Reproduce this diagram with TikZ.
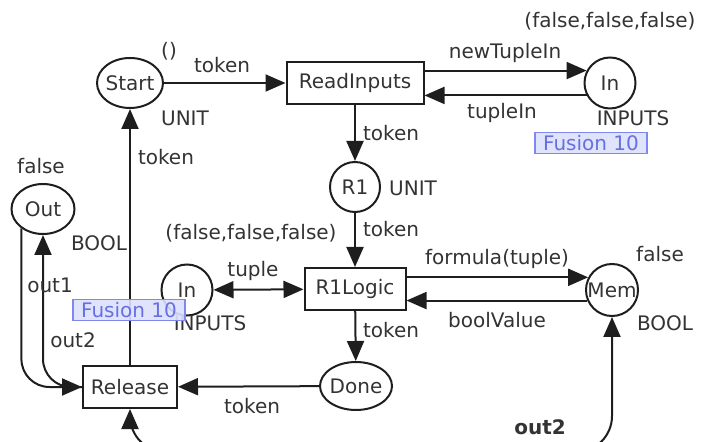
\documentclass[tikz,border=0pt]{standalone}
\usepackage{fontspec}
\setmainfont{DejaVu Sans}
\usetikzlibrary{arrows.meta,shapes.geometric}

\definecolor{ink}{HTML}{333333}
\definecolor{edge}{HTML}{1E1E1E}
\definecolor{fusline}{HTML}{8088F0}
\definecolor{fusfill}{HTML}{DCE0FC}
\definecolor{fustext}{HTML}{6670E0}

% text that does not widen the shape around it
\newcommand\zw[1]{\hbox to 0pt{\hss#1\hss}}

\begin{document}
\begin{tikzpicture}[x=0.5pt,y=-0.5pt,
  font=\fontsize{10}{12}\selectfont,
  every node/.style={text=ink},
  place/.style={ellipse, draw=edge, line width=1pt, inner sep=0pt},
  trans/.style={rectangle, draw=edge, line width=1pt, inner sep=0pt},
  lbl/.style={inner sep=0pt, anchor=center},
  fusion/.style={draw=fusline, fill=fusfill, fill opacity=0.9, text opacity=1,
    text=fustext, line width=0.8pt, minimum width=56pt, minimum height=10.5pt,
    inner sep=0pt},
  tip/.style={Triangle[length=10pt,width=8.5pt]},
  arc/.style={draw=edge, line width=1pt, -{Triangle[length=10pt,width=8.5pt]}},
  arcboth/.style={draw=edge, line width=1pt,
    {Triangle[length=10pt,width=8.5pt]}-{Triangle[length=10pt,width=8.5pt]}}
]
\useasboundingbox (0,0) rectangle (710,442);

% places and transitions
\node[place, minimum width=33pt, minimum height=25pt] (start) at (130,83) {\zw{Start}};
\node[trans, minimum width=68.5pt, minimum height=21pt] (readin) at (355,83) {\zw{ReadInputs}};
\node[place, minimum width=25.5pt, minimum height=25.5pt] (intop) at (610,83) {\zw{In}};
\node[place, minimum width=25pt, minimum height=25pt] (r1) at (355,187) {\zw{R1}};
\node[trans, minimum width=50.5pt, minimum height=21pt] (r1logic) at (355,289) {\zw{R1Logic}};
\node[place, minimum width=25.5pt, minimum height=25.5pt] (inlow) at (187,290) {\zw{In}};
\node[place, minimum width=26pt, minimum height=26pt] (mem) at (612,290) {\zw{Mem}};
\node[place, minimum width=36pt, minimum height=24pt] (done) at (356,386) {\zw{Done}};
\node[trans, minimum width=47pt, minimum height=21pt] (release) at (130,387) {\zw{Release}};
\node[place, minimum width=31.5pt, minimum height=25pt] (out) at (43,209) {\zw{Out}};

% arcs
\draw[arc] (start) -- (readin);
\draw[arc] (readin.east |- intop.152) -- (intop.152);
\draw[arc] (intop.208) -- (readin.east |- intop.208);
\draw[arc] (readin) -- (r1);
\draw[arc] (r1) -- (r1logic);
\draw[arcboth] (inlow) -- (r1logic);
\draw[arc] (r1logic.east |- mem.152) -- (mem.152);
\draw[arc] (mem.203) -- (r1logic.east |- mem.203);
\draw[arc] (r1logic) -- (done);
\draw[arc] (done) -- (release);
\draw[arc] (release) -- (start);
\draw[arc, rounded corners=14] (out.222) |- (release.west);
\draw[arc, rounded corners=14] (release.west) -| (out.south);
\coordinate (bottom) at (612,452);
\draw[arcboth, rounded corners=18] (release.south) |- (bottom) -- (mem.south);

% inscriptions
\node[lbl] (l1) at (169,51) {()};
\node[lbl] (l2) at (222,65) {token};
\node[lbl] (l3) at (185,118) {UNIT};
\node[lbl] (l4) at (166,157) {token};
\node[lbl] (l5) at (610,21) {(false,false,false)};
\node[lbl] (l6) at (505,53) {newTupleIn};
\node[lbl] (l7) at (502,113) {tupleIn};
\node[lbl] (l8) at (633,118) {INPUTS};
\node[lbl] (l9) at (391,133) {token};
\node[lbl] (l10) at (413,188) {UNIT};
\node[lbl] (l11) at (41,166) {false};
\node[lbl] (l12) at (99,243) {BOOL};
\node[lbl] (l13) at (391,229) {token};
\node[lbl] (l14) at (251,233) {(false,false,false)};
\node[lbl] (l15) at (253,271) {tuple};
\node[lbl] (l16) at (210,323) {INPUTS};
\node[lbl] (l17) at (497,259) {formula(tuple)};
\node[lbl] (l18) at (497,320) {boolValue};
\node[lbl] (l19) at (660,254) {false};
\node[lbl] (l20) at (665,323) {BOOL};
\node[lbl] (l21) at (391,330) {token};
\node[lbl] (l22) at (252,406) {token};
\node[lbl] (l23) at (50,285) {out1};
\node[lbl] (l24) at (73,340) {out2};
\node[lbl, font=\fontsize{10}{12}\selectfont\bfseries] (l25) at (540,427) {out2};

% fusion tags
\node[fusion] (f1) at (591,143) {Fusion 10};
\node[fusion] (f2) at (129,310) {Fusion 10};
\end{tikzpicture}
\end{document}
